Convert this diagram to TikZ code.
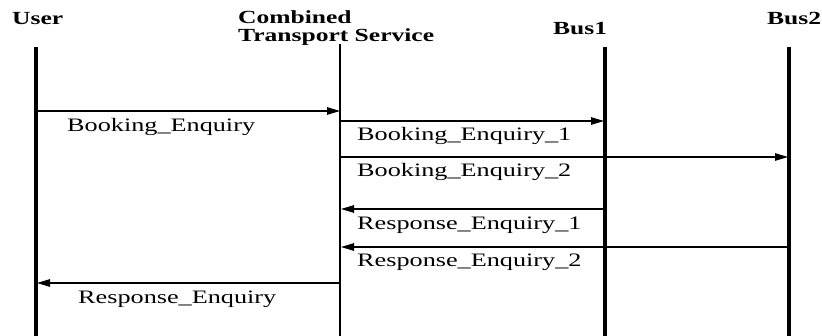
\documentclass[tikz,border=0pt]{standalone}
\usepackage{fontspec}
\usepackage{graphicx}
\setmainfont{Liberation Serif}
\usetikzlibrary{arrows.meta}
\newcommand\widetxt[1]{\scalebox{1.38}[1]{#1}}
\tikzset{
  lifeline/.style={line width=3.6pt},
  thinlife/.style={line width=1.4pt},
  msg/.style={line width=1.1pt, -{Triangle[length=13pt,width=7.5pt]}},
  head/.style={anchor=base west, inner sep=0pt, font=\fontsize{18.5}{18.5}\selectfont\bfseries},
  lbl/.style={anchor=base west, inner sep=0pt, font=\fontsize{19}{19}\selectfont}
}
\begin{document}
\begin{tikzpicture}[x=1pt,y=-1pt]
\useasboundingbox[fill=white] (0,0) rectangle (822,336);

% participants
\node[head] (user) at (12,25) {\widetxt{User}};
\node[head] (cts1) at (238,24) {\widetxt{Combined}};
\node[head] (cts2) at (238,42) {\widetxt{Transport Service}};
\node[head] (bus1) at (553,35) {\widetxt{Bus1}};
\node[head] (bus2) at (767,25) {\widetxt{Bus2}};

% lifelines
\coordinate (uT) at (36,47);   \coordinate (uB) at (36,336);
\coordinate (cT) at (340,44);  \coordinate (cB) at (340,336);
\coordinate (b1T) at (605,47); \coordinate (b1B) at (605,336);
\coordinate (b2T) at (789,47); \coordinate (b2B) at (789,336);
\draw[lifeline] (uT) -- (uB);
\draw[thinlife] (cT) -- (cB);
\draw[lifeline] (b1T) -- (b1B);
\draw[lifeline] (b2T) -- (b2B);

% message end points
\coordinate (m1s) at (37,111);  \coordinate (m1e) at (340,111);
\coordinate (m2s) at (340,121); \coordinate (m2e) at (604,121);
\coordinate (m3s) at (340,157); \coordinate (m3e) at (788,157);
\coordinate (m4s) at (604,209); \coordinate (m4e) at (341,209);
\coordinate (m5s) at (788,247); \coordinate (m5e) at (341,247);
\coordinate (m6s) at (340,283); \coordinate (m6e) at (37,283);

% messages
\draw[msg] (m1s) -- (m1e);
\draw[msg] (m2s) -- (m2e);
\draw[msg] (m3s) -- (m3e);
\draw[msg] (m4s) -- (m4e);
\draw[msg] (m5s) -- (m5e);
\draw[msg] (m6s) -- (m6e);

% message labels
\node[lbl] (l1) at (67,132)  {\widetxt{Booking\_Enquiry}};
\node[lbl] (l2) at (357,141) {\widetxt{Booking\_Enquiry\_1}};
\node[lbl] (l3) at (357,177) {\widetxt{Booking\_Enquiry\_2}};
\node[lbl] (l4) at (357,230) {\widetxt{Response\_Enquiry\_1}};
\node[lbl] (l5) at (357,267) {\widetxt{Response\_Enquiry\_2}};
\node[lbl] (l6) at (78,304)  {\widetxt{Response\_Enquiry}};
\end{tikzpicture}
\end{document}
